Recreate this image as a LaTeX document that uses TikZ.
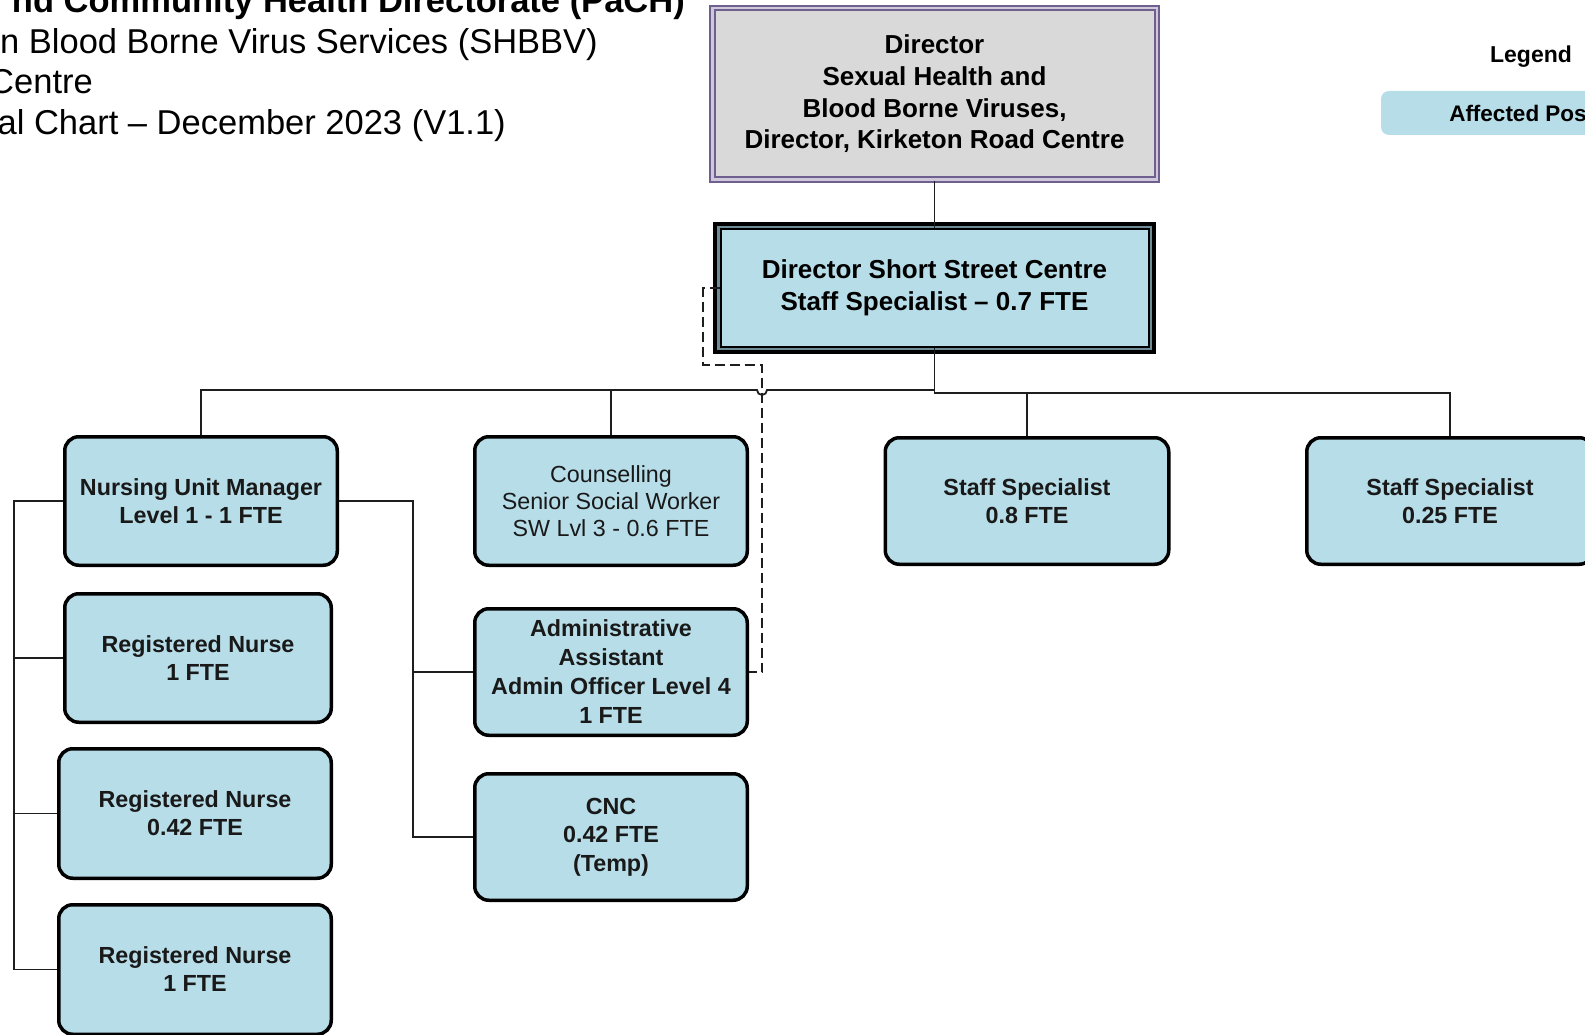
\documentclass[tikz,border=0pt]{standalone}
\usepackage{fontspec}
\setmainfont{Liberation Sans}
\usetikzlibrary{calc}
\pgfdeclarelayer{background}
\pgfsetlayers{background,main}

\definecolor{boxblue}{HTML}{B7DDE8}
\definecolor{dirgray}{HTML}{D9D9D9}
\definecolor{dirpurple}{HTML}{6F5F8F}
\definecolor{dirgap}{HTML}{CFC8DA}
\definecolor{framegap}{HTML}{6E8C96}
\definecolor{linkcol}{HTML}{1E1E1E}

\tikzset{
  post/.style={draw=black, line width=3.5pt, rounded corners=14pt, fill=boxblue,
    align=center, inner sep=0pt, text=black!90,
    font=\bfseries\fontsize{23.3}{28}\selectfont},
  plainpost/.style={post, font=\fontsize{23.3}{27}\selectfont},
  link/.style={line width=1.8pt, draw=linkcol},
  dotted link/.style={link, dash pattern=on 10pt off 5pt},
  titleline/.style={anchor=base east, inner sep=0pt, font=\fontsize{34.5}{41}\selectfont},
}

\begin{document}
\begin{tikzpicture}[x=1pt,y=-1pt]
\useasboundingbox (0,0) rectangle (1585,1035);
\clip (0,0) rectangle (1585,1035);

% heading
\node[titleline, font=\bfseries\fontsize{34.5}{41}\selectfont] (t1) at (685,13) {nd Community Health Directorate (PaCH)};
\node[titleline] (t2) at (598,54) {n Blood Borne Virus Services (SHBBV)};
\node[titleline] (t3) at (93,94) {Centre};
\node[titleline] (t4) at (506,135) {al Chart -- December 2023 (V1.1)};

% legend
\node[anchor=base, inner sep=0pt, font=\bfseries\fontsize{23}{28}\selectfont] (leg) at (1531,63) {Legend};
\node[fill=boxblue, rounded corners=8pt, minimum width=334pt, minimum height=44pt,
      inner sep=0pt, font=\bfseries\fontsize{22.5}{28}\selectfont] (aff) at (1548,113) {Affected Positions};

% top of the chart
\node[draw=dirpurple, double=dirgap, double distance=2.5pt, line width=2pt, fill=dirgray,
      minimum width=444.5pt, minimum height=171.5pt, inner sep=0pt, align=center,
      font=\bfseries\fontsize{26}{31.7}\selectfont] (dir) at (934.5,94)
  {Director\\Sexual Health and\\Blood Borne Viruses,\\Director, Kirketon Road Centre};

\node[draw=black, line width=2pt, fill=boxblue, minimum width=428pt, minimum height=117pt,
      inner sep=0pt, align=center, font=\bfseries\fontsize{26}{32}\selectfont] (sss) at (934.5,288)
  {Director Short Street Centre\\Staff Specialist -- 0.7 FTE};
\begin{pgfonlayer}{background}
  \draw[line width=4pt, draw=black, fill=framegap]
    ($(sss.north west)+(-4.5,-4.5)$) rectangle ($(sss.south east)+(4.5,4.5)$);
\end{pgfonlayer}

% first row
\node[post, minimum width=272.5pt, minimum height=128.5pt] (num) at (201,501) {Nursing Unit Manager\\Level 1 - 1 FTE};
\node[plainpost, minimum width=272.5pt, minimum height=128.5pt] (cou) at (611,501) {Counselling\\Senior Social Worker\\SW Lvl 3 - 0.6 FTE};
\node[post, minimum width=283.5pt, minimum height=126.5pt] (ss1) at (1027,501) {Staff Specialist\\0.8 FTE};
\node[post, minimum width=286.5pt, minimum height=126.5pt] (ss2) at (1450,501) {Staff Specialist\\0.25 FTE};

% nursing team
\node[post, minimum width=266.5pt, minimum height=128.5pt] (rn2) at (198,658) {Registered Nurse\\1 FTE};
\node[post, minimum width=272.5pt, minimum height=129.5pt] (rn3) at (195,813.5) {Registered Nurse\\0.42 FTE};
\node[post, minimum width=272.5pt, minimum height=129.5pt] (rn4) at (195,969.5) {Registered Nurse\\1 FTE};

% admin and clinical nurse consultant
\node[post, minimum width=272.5pt, minimum height=126.5pt, font=\bfseries\fontsize{23.3}{29}\selectfont] (adm) at (611,672)
  {Administrative\\Assistant\\Admin Officer Level 4\\1 FTE};
\node[post, minimum width=272.5pt, minimum height=126.5pt, font=\bfseries\fontsize{23.3}{28.5}\selectfont] (cnc) at (611,837)
  {CNC\\0.42 FTE\\(Temp)};

% reporting lines
\coordinate (busL) at (0,390);
\coordinate (busR) at (0,393);
\coordinate (lb) at (14,0);
\coordinate (rb) at (413,0);
\coordinate (hopR) at (767,390);

\draw[link] (dir.south) -- (sss.north);
\draw[link] (sss.south) -- (sss.south |- busR) -- (ss2.north |- busR) -- (ss2.north);
\draw[link] (ss1.north |- busR) -- (ss1.north);
\draw[link] (sss.south |- busL) -- (hopR) arc[start angle=0, end angle=-180, radius=5pt]
  -- (num.north |- busL) -- (num.north);
\draw[link] (cou.north |- busL) -- (cou.north);

\draw[link] (num.west) -- (num.west -| lb) -- (rn4.west -| lb) -- (rn4.west);
\draw[link] (rn2.west -| lb) -- (rn2.west);
\draw[link] (rn3.west -| lb) -- (rn3.west);

\draw[link] (num.east) -- (num.east -| rb) -- (cnc.west -| rb) -- (cnc.west);
\draw[link] (adm.west -| rb) -- (adm.west);

% dotted-line report from the centre director to admin support
\coordinate (d1) at (703,0);
\coordinate (d2) at (0,365);
\coordinate (d3) at (762,0);
\draw[dotted link] (sss.west) -- (sss.west -| d1) -- (d1 |- d2) -- (d3 |- d2)
  -- (d3 |- adm.east) -- (adm.east);
\end{tikzpicture}
\end{document}
